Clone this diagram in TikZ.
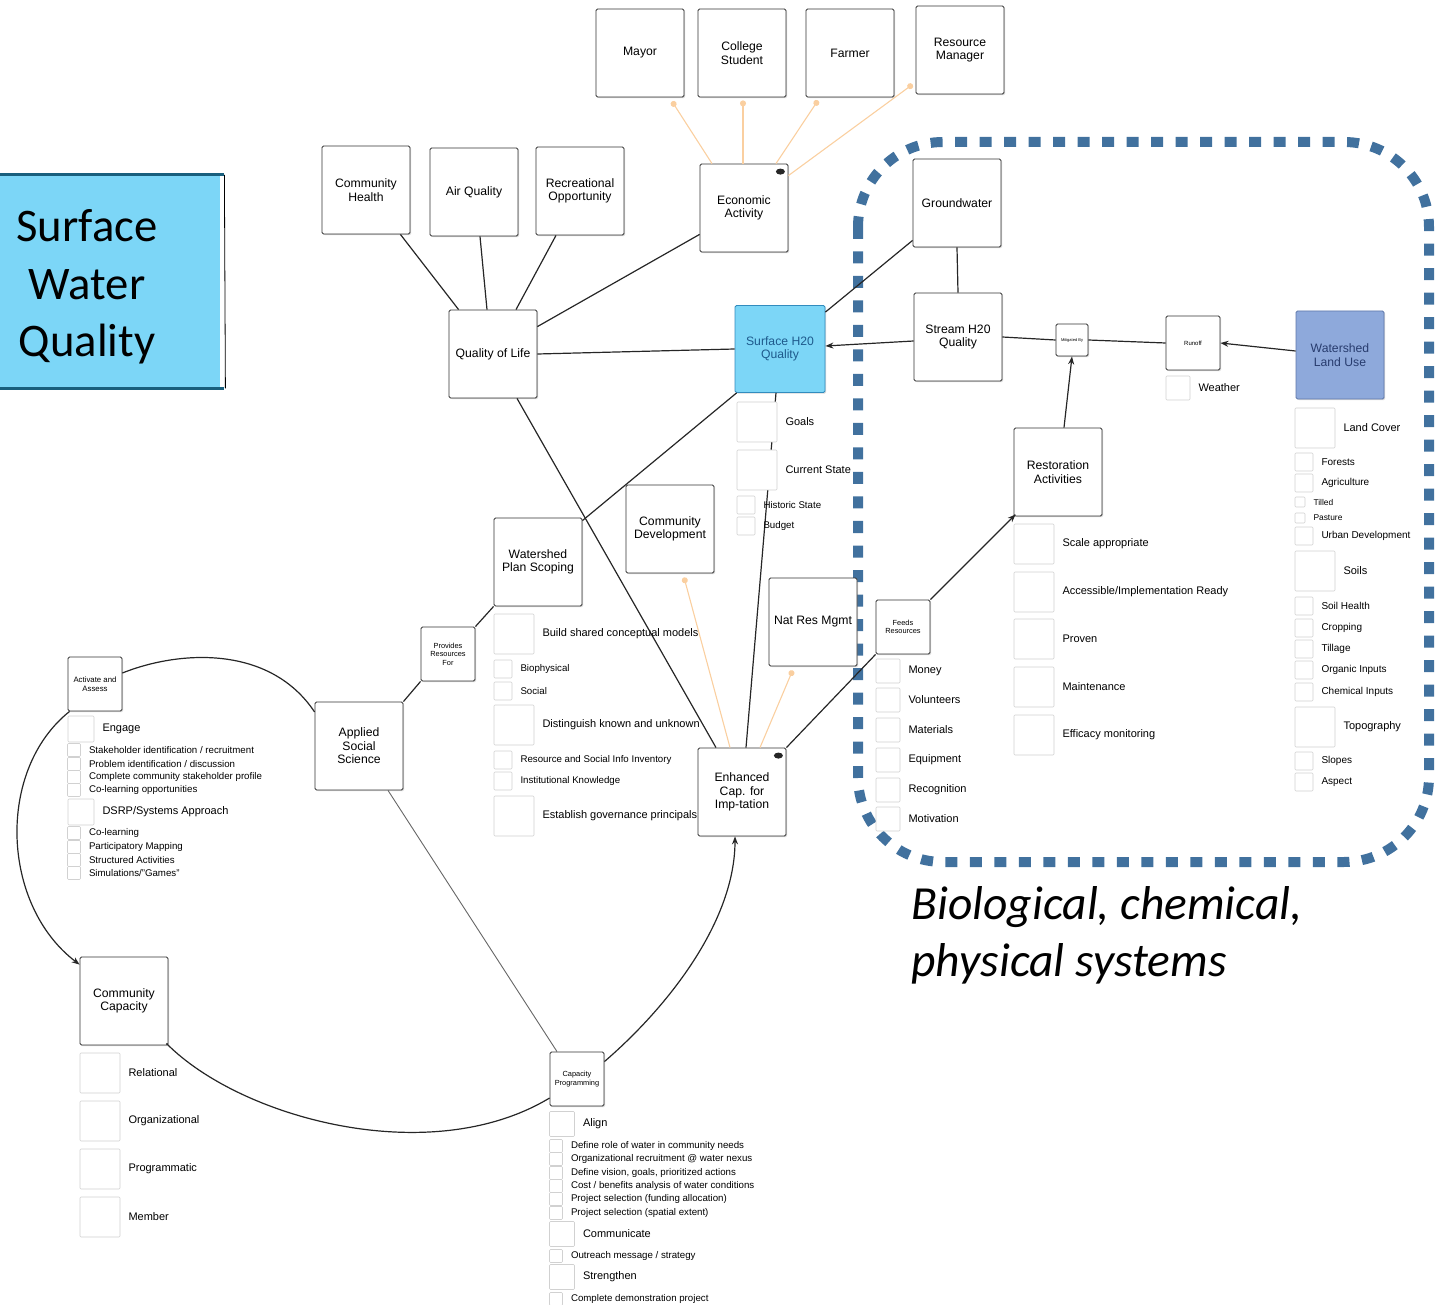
\documentclass[tikz,border=0pt]{standalone}
\usepackage{fontspec}
\setmainfont{Liberation Sans}
\newfontfamily\calibri{Carlito}
\usetikzlibrary{arrows.meta,shadows}

\definecolor{peach}{RGB}{250,207,160}
\definecolor{sysblue}{RGB}{65,113,158}
\definecolor{skyfill}{RGB}{124,214,247}
\definecolor{skydraw}{RGB}{50,140,190}
\definecolor{skytext}{RGB}{30,90,140}
\definecolor{landfill}{RGB}{142,169,219}
\definecolor{landdraw}{RGB}{95,120,170}
\definecolor{landtext}{RGB}{40,60,110}
\definecolor{titleedge}{RGB}{25,95,125}

\tikzset{
  box/.style={draw=black!80, line width=0.8pt, fill=white, rounded corners=1.5pt,
    minimum width=88pt, minimum height=88pt, align=center, inner sep=2pt,
    font=\fontsize{12.2}{13.5}\selectfont,
    drop shadow={shadow xshift=1.2pt, shadow yshift=-1.2pt, opacity=0.3}},
  sbox/.style={box, minimum width=54pt, minimum height=54pt,
    font=\fontsize{7.4}{8.4}\selectfont},
  cb/.style={draw=black!18, line width=0.6pt, fill=white, rounded corners=1pt, inner sep=0pt},
  lt/.style={inner sep=0pt, anchor=west},
  conn/.style={draw=black!85, line width=1.2pt},
  arr/.style={conn, -{Stealth[length=8pt,width=6pt]}},
  orl/.style={draw=peach, line width=1.1pt, {Circle[length=6pt]}-},
  eye/.style={fill=black!85},
}

% checklist entry: name, x, y, box size, font size, label
\newcommand\chkitem[6]{%
  \node[cb, minimum size=#4pt] (#1) at (#2,#3) {};
  \node[lt, font=\fontsize{#5}{#5}\selectfont] (#1-l) at ([xshift=8pt]#1.east) {#6};}

\begin{document}
\begin{tikzpicture}[x=1pt,y=-1pt]
\useasboundingbox (0,0) rectangle (1452,1305);

% title panel
\node[fill=skyfill, minimum width=220pt, minimum height=213pt, anchor=north west, inner sep=0pt] (titlebox) at (0,175) {};
\draw[titleedge, line width=3pt] (titlebox.north west) -- ([xshift=4pt]titlebox.north east);
\draw[titleedge, line width=3pt] (titlebox.south west) -- ([xshift=4pt]titlebox.south east);
\draw[black, line width=0.8pt] ([xshift=4pt]titlebox.north east) -- ([xshift=5pt]titlebox.south east);
\node[font=\calibri\fontsize{46.7}{57.5}\selectfont, align=center] (titletext) at (87,287) {Surface\\Water\\Quality};

% systems border
\draw[sysblue, line width=10pt, dash pattern=on 12pt off 12.5pt, rounded corners=85pt] (858,142) rectangle (1429,862);
\node[font=\calibri\itshape\fontsize{47.5}{57}\selectfont, align=left, anchor=west] (bio) at (908,935) {Biological, chemical,\\physical systems};

% stakeholders
\node[box] (mayor) at (640,53) {Mayor};
\node[box] (college) at (742,53) {College\\Student};
\node[box] (farmer) at (850,53) {Farmer};
\node[box] (resman) at (960,50) {Resource\\Manager};
\node[box] (econ) at (744,208) {Economic\\Activity};

% quality of life cluster
\node[box] (ch) at (366,190) {Community\\Health};
\node[box] (aq) at (474,192) {Air Quality};
\node[box] (ro) at (580,191) {Recreational\\Opportunity};
\node[box] (qol) at (493,354) {Quality of Life};
\node[box, fill=skyfill, draw=skydraw, text=skytext, minimum width=90pt, minimum height=87pt] (sw) at (780,349) {Surface H20\\Quality};

% physical system
\node[box] (gw) at (957,203) {Groundwater};
\node[box] (stream) at (958,337) {Stream H20\\Quality};
\node[box, minimum width=32pt, minimum height=32pt, font=\fontsize{4}{5}\selectfont] (mit) at (1072,340) {Mitigated By};
\node[sbox, font=\fontsize{6}{7}\selectfont] (runoff) at (1193,343) {Runoff};
\node[box, fill=landfill, draw=landdraw, text=landtext] (wlu) at (1340,355) {Watershed\\Land Use};
\node[box] (rest) at (1058,472) {Restoration\\Activities};

% planning and capacity
\node[box] (cdev) at (670,529) {Community\\Development};
\node[box] (wps) at (538,562) {Watershed\\Plan Scoping};
\node[box] (nrm) at (813,622) {Nat Res Mgmt};
\node[sbox] (feeds) at (903,627) {Feeds\\Resources};
\node[sbox] (prov) at (448,654) {Provides\\Resources\\For};
\node[box] (ass) at (359,746) {Applied\\Social\\Science};
\node[box] (enh) at (742,792) {Enhanced\\Cap. for\\Imp-tation};
\node[sbox, font=\fontsize{7.8}{8.8}\selectfont] (act) at (95,684) {Activate and\\Assess};
\node[box] (cc) at (124,1001) {Community\\Capacity};
\node[sbox] (cp) at (577,1079) {Capacity\\Programming};

% view markers
\fill[eye] ([xshift=-8pt,yshift=-8pt]econ.north east) ellipse [x radius=4.5pt, y radius=3pt];
\fill[eye] ([xshift=-8pt,yshift=-8pt]enh.north east) ellipse [x radius=4.5pt, y radius=3pt];

% stakeholder links
\draw[orl] ([xshift=32pt,yshift=-4pt]mayor.south) -- ([xshift=-32pt]econ.north);
\draw[orl] ([xshift=1pt,yshift=-3pt]college.south) -- ([xshift=-1pt]econ.north);
\draw[orl] ([xshift=-32pt,yshift=-3pt]farmer.south) -- ([xshift=32pt]econ.north);
\draw[orl] ([xshift=-3pt,yshift=10pt]resman.south west) -- ([yshift=-12pt]econ.north east);
\draw[orl] ([xshift=14pt,yshift=-4pt]cdev.south) -- ([xshift=-12pt]enh.north);
\draw[orl] ([xshift=24pt,yshift=-4pt]nrm.south west) -- ([xshift=18pt]enh.north);

% main connectors
\draw[conn] ([xshift=-10pt]ch.south east) -- ([xshift=10pt]qol.north west);
\draw[conn] ([xshift=6pt]aq.south) -- ([xshift=-6pt]qol.north);
\draw[conn] ([xshift=-24pt]ro.south) -- ([xshift=23pt]qol.north);
\draw[conn] ([yshift=18pt]econ.south west) -- ([yshift=-17pt]qol.north east);
\draw[conn] (qol.east) -- (sw.west);
\draw[conn] ([xshift=24pt]qol.south) -- ([xshift=-26pt]enh.north);
\draw[conn] ([xshift=2pt]sw.south west) -- ([yshift=-3pt]wps.north east);
\draw[conn] ([xshift=-4pt]sw.south) -- ([xshift=4pt]enh.north);
\draw[conn] ([yshift=7pt]gw.south west) -- ([yshift=-7pt]sw.north east);
\draw[conn] (gw.south) -- (stream.north);
\draw[arr] ([yshift=-4pt]stream.west) -- ([yshift=3pt]sw.east);
\draw[conn] (mit.west) -- (stream.east);
\draw[conn] (runoff.west) -- (mit.east);
\draw[arr] ([yshift=4pt]wlu.west) -- (runoff.east);
\draw[arr] ([xshift=6pt]rest.north) -- (mit.south);
\draw[arr] (feeds.north east) -- ([xshift=2pt,yshift=2pt]rest.south west);
\draw[conn] (enh.north east) -- (feeds.south west);
\draw[conn] (wps.south west) -- (prov.north east);
\draw[conn] (prov.south west) -- (ass.north east);
\draw[draw=black!60, line width=0.9pt] ([xshift=29pt]ass.south) -- ([xshift=-20pt]cp.north);

% capacity cycle
\draw[conn] ([yshift=11pt]act.east) .. controls (180,650) and (270,645) .. ([yshift=34pt]ass.west);
\draw[arr] ([xshift=2pt]act.south west) .. controls (-4,770) and (1,905) .. ([yshift=-8pt]cc.north west);
\draw[conn] ([xshift=-2pt,yshift=2pt]cc.south east) .. controls (240,1118) and (430,1170) .. ([yshift=-19pt]cp.west);
\draw[arr] ([yshift=-10pt]cp.north east) .. controls (670,1005) and (735,920) .. ([xshift=-7pt]enh.south);

% surface water checklist
\chkitem{goals}{757}{422}{40}{11}{Goals}
\chkitem{curst}{757}{470}{40}{11}{Current State}
\chkitem{hist}{746}{505}{18}{9.7}{Historic State}
\chkitem{budget}{746}{526}{18}{9.7}{Budget}

% plan scoping checklist
\chkitem{build}{514}{634}{40}{11}{Build shared conceptual models}
\chkitem{bioph}{503}{669}{18}{9.7}{Biophysical}
\chkitem{social}{503}{691}{18}{9.7}{Social}
\chkitem{disting}{514}{725}{40}{11}{Distinguish known and unknown}
\chkitem{inventory}{503}{760}{18}{9.7}{Resource and Social Info Inventory}
\chkitem{instk}{503}{781}{18}{9.7}{Institutional Knowledge}
\chkitem{govern}{514}{816}{40}{11}{Establish governance principals}

% resources checklist
\chkitem{money}{888}{671}{24}{11}{Money}
\chkitem{volun}{888}{700}{24}{11}{Volunteers}
\chkitem{mater}{888}{730}{24}{11}{Materials}
\chkitem{equip}{888}{760}{24}{11}{Equipment}
\chkitem{recog}{888}{790}{24}{11}{Recognition}
\chkitem{motiv}{888}{819}{24}{11}{Motivation}

% restoration checklist
\chkitem{scale}{1034}{544}{40}{11}{Scale appropriate}
\chkitem{access}{1034}{592}{40}{11}{Accessible/Implementation Ready}
\chkitem{proven}{1034}{639}{40}{11}{Proven}
\chkitem{maint}{1034}{687}{40}{11}{Maintenance}
\chkitem{effic}{1034}{735}{40}{11}{Efficacy monitoring}

% land use checklist
\chkitem{weather}{1178}{388}{24}{11}{Weather}
\chkitem{lcover}{1315}{428}{40}{11}{Land Cover}
\chkitem{forest}{1304}{462}{18}{10}{Forests}
\chkitem{agri}{1304}{483}{18}{10}{Agriculture}
\chkitem{tilled}{1300}{502}{10}{8.4}{Tilled}
\chkitem{pasture}{1300}{518}{10}{8.4}{Pasture}
\chkitem{urban}{1304}{536}{18}{10}{Urban Development}
\chkitem{soils}{1315}{571}{40}{11}{Soils}
\chkitem{shealth}{1304}{606}{18}{10}{Soil Health}
\chkitem{crop}{1304}{628}{18}{10}{Cropping}
\chkitem{tillage}{1304}{649}{18}{10}{Tillage}
\chkitem{organic}{1304}{670}{18}{10}{Organic Inputs}
\chkitem{chem}{1304}{692}{18}{10}{Chemical Inputs}
\chkitem{topo}{1315}{727}{40}{11}{Topography}
\chkitem{slopes}{1304}{761}{18}{10}{Slopes}
\chkitem{aspect}{1304}{782}{18}{10}{Aspect}

% activate and assess checklist
\chkitem{engage}{81}{729}{26}{11}{Engage}
\chkitem{stake}{74}{750}{13}{9.7}{Stakeholder identification / recruitment}
\chkitem{probid}{74}{764}{13}{9.7}{Problem identification / discussion}
\chkitem{profile}{74}{777}{13}{9.7}{Complete community stakeholder profile}
\chkitem{colopp}{74}{790}{13}{9.7}{Co-learning opportunities}
\chkitem{dsrp}{81}{812}{26}{11}{DSRP/Systems Approach}
\chkitem{colearn}{74}{833}{13}{9.7}{Co-learning}
\chkitem{mapping}{74}{847}{13}{9.7}{Participatory Mapping}
\chkitem{struct}{74}{860}{13}{9.7}{Structured Activities}
\chkitem{games}{74}{873}{13}{9.7}{Simulations/"Games"}

% community capacity checklist
\chkitem{relat}{100}{1073}{40}{11}{Relational}
\chkitem{organ}{100}{1121}{40}{11}{Organizational}
\chkitem{progr}{100}{1169}{40}{11}{Programmatic}
\chkitem{member}{100}{1217}{40}{11}{Member}

% capacity programming checklist
\chkitem{align}{562}{1124}{25}{11}{Align}
\chkitem{role}{556}{1146}{13}{9.7}{Define role of water in community needs}
\chkitem{recruit}{556}{1159}{13}{9.7}{Organizational recruitment @ water nexus}
\chkitem{vision}{556}{1173}{13}{9.7}{Define vision, goals, prioritized actions}
\chkitem{costben}{556}{1186}{13}{9.7}{Cost / benefits analysis of water conditions}
\chkitem{selfund}{556}{1199}{13}{9.7}{Project selection (funding allocation)}
\chkitem{selspat}{556}{1213}{13}{9.7}{Project selection (spatial extent)}
\chkitem{commun}{562}{1234}{25}{11}{Communicate}
\chkitem{outreach}{556}{1256}{13}{9.7}{Outreach message / strategy}
\chkitem{strength}{562}{1277}{25}{11}{Strengthen}
\chkitem{demo}{556}{1299}{13}{9.7}{Complete demonstration project}

\end{tikzpicture}
\end{document}
